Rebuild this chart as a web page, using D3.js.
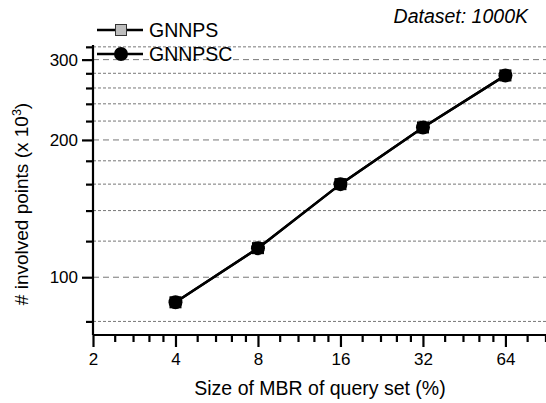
<!DOCTYPE html>
<html><head><meta charset="utf-8">
<script src="https://cdn.jsdelivr.net/npm/d3@7"></script>
<style>body{margin:0;background:#fff}svg{display:block}text{font-family:"Liberation Sans",Arial,sans-serif;fill:#000}</style>
</head><body><svg id="c" width="546" height="403"></svg>
<script>
const sizes = [4, 8, 16, 32, 64];
const gnnps = [88.1, 115.8, 160, 213, 277];
const gnnpsc = [88.1, 115.8, 160, 213, 277];
const xMajor = [2, 4, 8, 16, 32, 64];
const xMinor = [2.4, 2.8, 3.2, 3.6, 4.8, 5.6, 6.4, 7.2, 9.6, 11.2, 12.8, 14.4, 19.2, 22.4, 25.6, 28.8, 38.4, 44.8, 51.2, 57.6, 76.8, 89.6];
const yMajor = [100, 200, 300];
const yMinor = [80, 120, 140, 160, 180, 220, 240, 260, 280, 320];

const svg = d3.select("#c");
const L = 93, R = 546, T = 45, B = 335;
const x = d3.scaleLog().base(2).domain([2, 90]).range([L, R]);
const y = d3.scaleLog().domain([74.7, 323]).range([B, T]);

// grid
const g = svg.append("g");
g.selectAll(".gmin").data(yMinor).join("line")
  .attr("x1", L).attr("x2", R).attr("y1", d => y(d)).attr("y2", d => y(d))
  .attr("stroke", "#777").attr("stroke-width", 1).attr("stroke-dasharray", "3,2");
g.selectAll(".gmaj").data(yMajor).join("line")
  .attr("x1", L).attr("x2", R).attr("y1", d => y(d)).attr("y2", d => y(d))
  .attr("stroke", "#777").attr("stroke-width", 1).attr("stroke-dasharray", "6,4");

// x axis
const xa = svg.append("g").attr("transform", `translate(0,${B})`);
xa.call(d3.axisBottom(x).tickValues(xMajor).tickFormat(d3.format("d")).tickSize(12).tickPadding(6));
const xm = svg.append("g").attr("transform", `translate(0,${B})`);
xm.call(d3.axisBottom(x).tickValues(xMinor).tickFormat("").tickSize(7));
// y axis
const ya = svg.append("g").attr("transform", `translate(${L},0)`);
ya.call(d3.axisLeft(y).tickValues(yMajor).tickFormat(d3.format("d")).tickSize(11).tickPadding(4));
const ym = svg.append("g").attr("transform", `translate(${L},0)`);
ym.call(d3.axisLeft(y).tickValues(yMinor).tickFormat("").tickSize(7));
[xa, xm, ya, ym].forEach(a => {
  a.selectAll(".domain").attr("stroke", "#000").attr("stroke-width", 2.2);
  a.selectAll(".tick line").attr("stroke", "#000").attr("stroke-width", 2.2);
  a.selectAll("text").style("font-size", "17px").attr("fill", "#000");
});
xm.select(".domain").remove(); ym.select(".domain").remove();
ya.select(".domain").attr("d", `M0,${B}V${T}`);
xa.select(".domain").attr("d", `M${L},0H${R}`);

// line + markers
const line = d3.line().x((d, i) => x(sizes[i])).y(d => y(d));
svg.append("path").datum(gnnps).attr("d", line).attr("fill", "none").attr("stroke", "#000").attr("stroke-width", 2.5);
svg.append("path").datum(gnnpsc).attr("d", line).attr("fill", "none").attr("stroke", "#000").attr("stroke-width", 2.5);
svg.selectAll(".sq").data(gnnps).join("rect")
  .attr("x", (d, i) => x(sizes[i]) - 5.5).attr("y", d => y(d) - 5.5).attr("width", 11).attr("height", 11)
  .attr("fill", "#111").attr("stroke", "#000").attr("stroke-width", 1);
svg.selectAll(".ci").data(gnnpsc).join("circle")
  .attr("cx", (d, i) => x(sizes[i])).attr("cy", d => y(d)).attr("r", 7).attr("fill", "#000");

// legend
const lg = svg.append("g");
lg.append("line").attr("x1", 97).attr("x2", 143).attr("y1", 30).attr("y2", 30).attr("stroke", "#000").attr("stroke-width", 2.5);
lg.append("rect").attr("x", 115.5).attr("y", 24.5).attr("width", 11).attr("height", 11).attr("fill", "#bdbdbd").attr("stroke", "#333").attr("stroke-width", 1);
lg.append("text").attr("x", 149).attr("y", 36.5).style("font-size", "19.5px").text("GNNPS");
lg.append("line").attr("x1", 97).attr("x2", 143).attr("y1", 54).attr("y2", 54).attr("stroke", "#000").attr("stroke-width", 2.5);
lg.append("circle").attr("cx", 121).attr("cy", 54).attr("r", 7).attr("fill", "#000");
lg.append("text").attr("x", 149).attr("y", 60.5).style("font-size", "19.5px").text("GNNPSC");

// titles
svg.append("text").attr("x", 528).attr("y", 23).attr("text-anchor", "end").style("font-size", "19.5px").style("font-style", "italic").text("Dataset: 1000K");
svg.append("text").attr("x", 320).attr("y", 395).attr("text-anchor", "middle").style("font-size", "19.5px").text("Size of MBR of query set (%)");
const yt = svg.append("text").attr("transform", "translate(28,204) rotate(-90)").attr("text-anchor", "middle").style("font-size", "19px");
yt.append("tspan").text("# involved points (x 10");
yt.append("tspan").attr("dy", -7).style("font-size", "12.5px").text("3");
yt.append("tspan").attr("dy", 7).text(")");
</script></body></html>
